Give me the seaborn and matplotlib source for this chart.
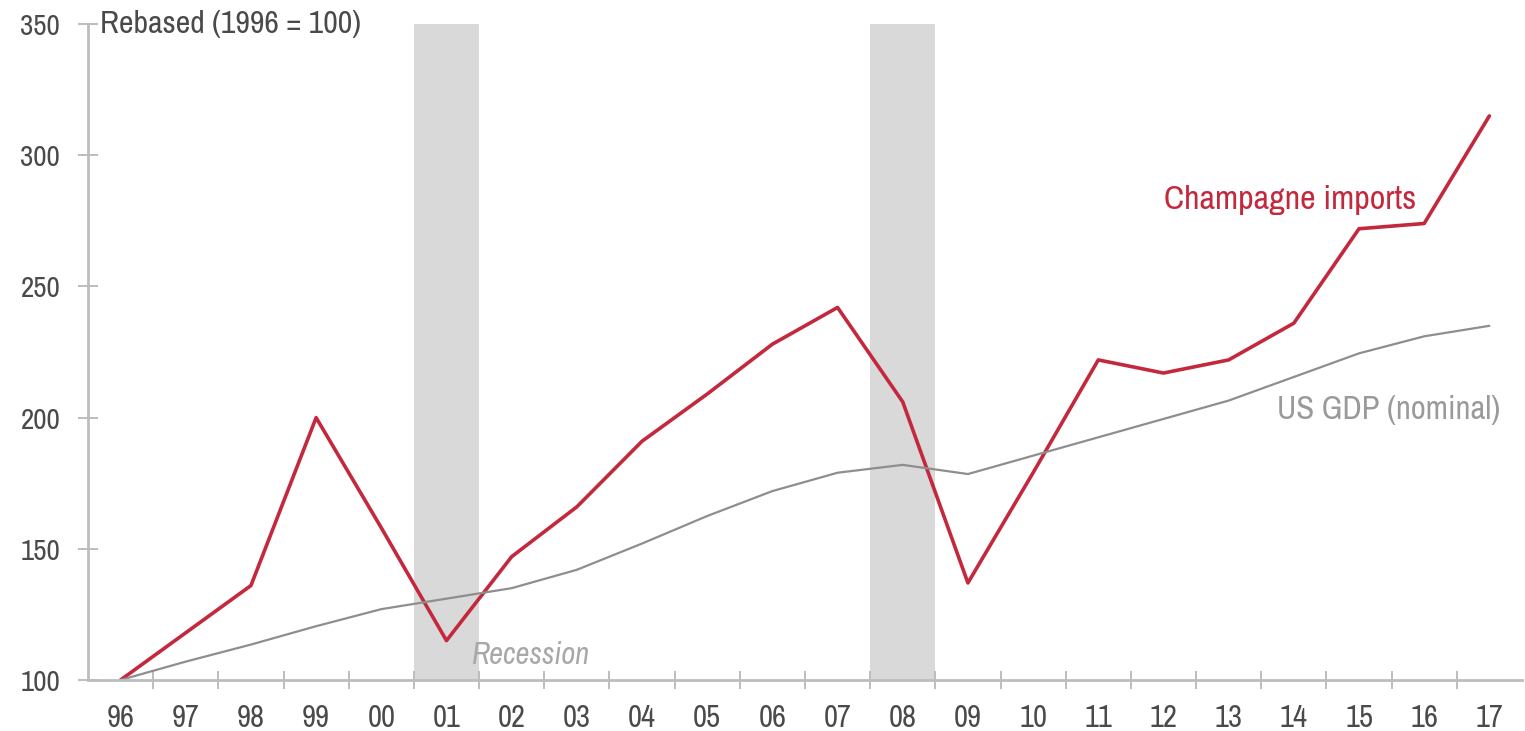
#%%
# import modules
import numpy as np
import pandas as pd
import matplotlib
matplotlib.use('Agg')
import matplotlib.pyplot as plt
from matplotlib import font_manager
import seaborn as sns

#%%
# data (rebased, 1996 = 100)
years = ['96', '97', '98', '99', '00', '01', '02', '03', '04', '05', '06',
         '07', '08', '09', '10', '11', '12', '13', '14', '15', '16', '17']
champagne = [100, 118, 136, 200, 158, 115, 147, 166, 191, 209, 228,
             242, 206, 137, 179, 222, 217, 222, 236, 272, 274, 315]
gdp = [100, 107, 113.5, 120.5, 127, 131, 135, 142, 152, 162.5, 172,
       179, 182, 178.5, 185.5, 192.5, 199.5, 206.5, 215.5, 224.5, 231, 235]
# recession years (shaded one full year wide)
recessions = ['01', '08']
y_ticks = [100, 150, 200, 250, 300, 350]

#%%
# build a long table for seaborn
pos = np.arange(len(years))
df = pd.DataFrame({'pos': np.concatenate([pos, pos]),
                   'value': champagne + gdp,
                   'series': ['Champagne imports'] * len(years) + ['US GDP (nominal)'] * len(years)})

sns.set_style('white')

# look for a narrow / condensed face, the original uses one
fam, stretch = 'DejaVu Sans', 'normal'
for f in font_manager.fontManager.ttflist:
    if 'Narrow' in f.name or 'Condensed' in f.name:
        fam = f.name
        break
    if f.stretch in ('condensed', 'semi-condensed', 'extra-condensed'):
        fam, stretch = f.name, 'condensed'
plt.rcParams['font.family'] = [fam, 'DejaVu Sans']
plt.rcParams['font.stretch'] = stretch

red = '#c3283d'
grey_line = '#8e8e8e'
axis_col = '#bdbdbd'
text_col = '#4a4a4a'

fig = plt.figure(figsize=(15.25, 7.31), dpi=100)
ax = fig.add_axes([0.0577, 0.0698, 0.9403, 0.8972])

# recession shading
for r in recessions:
    i = years.index(r)
    ax.axvspan(i - 0.5, i + 0.5, color='#d9d9d9', lw=0, zorder=0)

sns.lineplot(data=df, x='pos', y='value', hue='series',
             palette={'Champagne imports': red, 'US GDP (nominal)': grey_line},
             size='series', sizes={'Champagne imports': 2.6, 'US GDP (nominal)': 1.6},
             legend=False, ax=ax, zorder=3)

ax.set_xlim(-0.5, len(years) - 0.5)
ax.set_ylim(100, 350)
ax.set_xlabel('')
ax.set_ylabel('')

# ticks between years, labels on the years
ax.set_xticks(pos[:-1] + 0.5)
ax.set_xticklabels([])
ax.set_xticks(pos, minor=True)
ax.set_xticklabels(years, minor=True)
ax.tick_params(axis='x', which='major', bottom=True, direction='inout', length=13,
               width=1.4, color=axis_col)
ax.tick_params(axis='x', which='minor', bottom=True, length=0, pad=17, labelsize=22,
               labelcolor=text_col)

ax.set_yticks(y_ticks)
ax.set_yticklabels([str(t) for t in y_ticks])
ax.tick_params(axis='y', left=True, direction='inout', length=14, width=1.4, color=axis_col,
               pad=13, labelsize=21, labelcolor=text_col)

for s in ['top', 'right']:
    ax.spines[s].set_visible(False)
for s in ['left', 'bottom']:
    ax.spines[s].set_color(axis_col)
    ax.spines[s].set_linewidth(2)
ax.spines['bottom'].set_zorder(4)

# annotations
ax.text(-0.32, 350, 'Rebased (1996 = 100)', fontsize=23, color=text_col, va='center', ha='left')
ax.text(17.95, 283, 'Champagne imports', fontsize=24.5, color=red, va='center', ha='center')
ax.text(21.16, 203, 'US GDP (nominal)', fontsize=23.5, color='#9a9a9a', va='center', ha='right')
ax.text(5.39, 109.5, 'Recession', fontsize=22, color='#a8a8a8', style='italic', va='center', ha='left')

fig.savefig('out.png', dpi=100)
